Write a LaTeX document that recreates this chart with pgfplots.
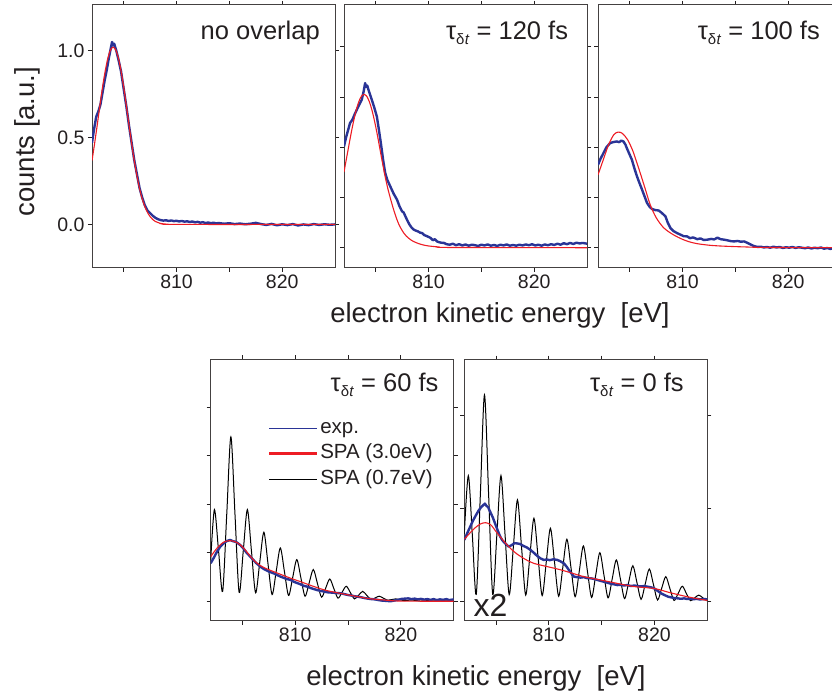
\documentclass[border=0pt]{standalone}
\usepackage{fontspec}
\setmainfont{Liberation Sans}
\usepackage{pgfplots}
\pgfplotsset{compat=1.18}
\definecolor{expblue}{RGB}{42,52,150}
\definecolor{spared}{RGB}{237,28,36}
\definecolor{txt}{RGB}{35,31,32}
\newcommand{\tdt}{τ\raisebox{-5pt}{\fontsize{15}{15}\selectfont δ\kern0.3pt\textit{t}}}
\tikzset{
  expline/.style={expblue, line width=2.4pt, line join=round},
  redfit/.style={spared, line width=1.1pt, smooth},
  blackfit/.style={black, line width=1.0pt, smooth},
  lbl/.style={font=\fontsize{25.5}{28}\selectfont, text=txt, anchor=base east, inner sep=0pt},
}
\pgfplotsset{
  panel/.style={
    scale only axis, width=243pt, height=262.7pt, anchor=south west,
    xmin=802, xmax=825,
    xtick={805,810,815,820}, xticklabels={,810,,820},
    tick align=outside, major tick length=4pt,
    tick style={line width=0.8pt, color=txt},
    axis line style={line width=1pt, color=txt!85},
    tick label style={font=\fontsize{19.5}{20}\selectfont, text=txt},
    /pgf/number format/assume math mode=true,
    yticklabels={},
  },
}
\begin{document}
\begin{tikzpicture}
\useasboundingbox (0pt,0pt) rectangle (832pt,695pt);
% ---------- panel 1: no overlap
\begin{axis}[panel, at={(92pt,427.3pt)}, ymin=-0.249, ymax=1.263,
  ytick={0,0.5,1}, yticklabels={0.0,0.5,1.0}]
\addplot[expline] coordinates {(802.0,0.47)(802.2,0.55)(802.4,0.62)(802.6,0.65)(802.8,0.69)(803.0,0.76)(803.2,0.83)(803.4,0.89)(803.6,0.96)(803.8,1.02)(803.9,1.05)(804.0,1.03)(804.1,1.04)(804.3,1.00)(804.5,0.95)(804.75,0.88)(805.0,0.78)(805.25,0.68)(805.5,0.57)(805.75,0.47)(806.0,0.37)(806.25,0.29)(806.5,0.21)(806.75,0.155)(807.0,0.11)(807.25,0.08)(807.5,0.065)(807.75,0.05)(808.0,0.038)(808.25,0.03)(808.5,0.025)(808.75,0.022)(809.0,0.024)(809.25,0.02)(809.5,0.023)(809.75,0.019)(810.0,0.021)(810.25,0.017)(810.5,0.02)(810.75,0.016)(811.0,0.018)(811.25,0.014)(811.5,0.017)(811.75,0.012)(812.0,0.015)(812.25,0.01)(812.5,0.013)(812.75,0.008)(813.0,0.011)(813.25,0.007)(813.5,0.01)(813.75,0.006)(814.0,0.008)(814.5,0.004)(815.0,0.007)(815.5,0.002)(816.0,0.005)(816.5,0.001)(817.0,0.004)(817.5,0.009)(818.0,0.002)(818.5,-0.003)(819.0,0.003)(819.5,-0.005)(820.0,0.001)(820.5,-0.004)(821.0,0.002)(821.5,-0.006)(822.0,0.0)(822.5,-0.004)(823.0,0.002)(823.5,-0.003)(824.0,0.001)(824.5,-0.002)(825.0,0.0)};
\addplot[redfit] coordinates {(802,0.367)(802.25,0.467)(802.5,0.574)(802.75,0.684)(803,0.791)(803.25,0.883)(803.5,0.957)(803.75,1.004)(804,1.020)(804.25,1.004)(804.5,0.957)(804.75,0.883)(805,0.791)(805.25,0.684)(805.5,0.574)(805.75,0.467)(806,0.367)(806.25,0.281)(806.5,0.207)(806.75,0.148)(807,0.103)(807.25,0.069)(807.5,0.045)(807.75,0.028)(808,0.017)(808.5,0.006)(809,0.002)(810,0)(825,0)};
\node[lbl] at (rel axis cs:1,1) [xshift=-15pt, yshift=-35pt] {no overlap};
\end{axis}
% ---------- panel 2: 120 fs
\begin{axis}[panel, at={(344pt,427.3pt)}, ymin=-0.0795, ymax=0.966,
  ytick={0,0.2,0.4,0.6,0.8}]
\addplot[expline] coordinates {(802.0,0.403)(802.2,0.44)(802.4,0.47)(802.57,0.496)(802.8,0.51)(803.0,0.53)(803.21,0.549)(803.45,0.57)(803.68,0.589)(803.85,0.62)(804.0,0.655)(804.1,0.64)(804.2,0.645)(804.32,0.628)(804.5,0.605)(804.63,0.589)(804.85,0.56)(805.11,0.522)(805.3,0.47)(805.49,0.416)(805.7,0.35)(805.9,0.297)(806.1,0.27)(806.38,0.244)(806.7,0.215)(807.02,0.191)(807.25,0.165)(807.49,0.145)(807.65,0.14)(807.81,0.125)(808.0,0.108)(808.2,0.092)(808.4,0.08)(808.6,0.072)(808.8,0.068)(809.0,0.065)(809.2,0.060)(809.4,0.058)(809.6,0.05)(809.8,0.047)(810.0,0.043)(810.19,0.039)(810.4,0.030)(810.6,0.034)(810.8,0.025)(811.0,0.022)(811.2,0.02)(811.46,0.019)(811.7,0.014)(812.0,0.012)(812.3,0.016)(812.6,0.01)(812.9,0.014)(813.2,0.009)(813.5,0.013)(813.8,0.008)(814.1,0.012)(814.4,0.01)(814.7,0.007)(815,0.012)(815.3,0.009)(815.6,0.013)(815.9,0.008)(816.2,0.011)(816.5,0.007)(816.8,0.012)(817.1,0.009)(817.4,0.013)(817.7,0.008)(818,0.011)(818.3,0.008)(818.6,0.012)(818.9,0.009)(819.2,0.013)(819.5,0.01)(819.8,0.014)(820.1,0.009)(820.4,0.012)(820.7,0.008)(821,0.013)(821.3,0.01)(821.6,0.014)(821.9,0.011)(822.2,0.016)(822.5,0.012)(822.8,0.018)(823.1,0.014)(823.4,0.019)(823.7,0.015)(824,0.02)(824.3,0.017)(824.6,0.019)(825,0.016)};
\addplot[redfit] coordinates {(802.0,0.301)(802.15,0.336)(802.4,0.393)(802.65,0.450)(802.9,0.502)(803.15,0.547)(803.4,0.581)(803.65,0.603)(803.9,0.610)(804.15,0.603)(804.4,0.581)(804.65,0.547)(804.9,0.502)(805.15,0.450)(805.4,0.393)(805.65,0.336)(805.9,0.282)(806.15,0.235)(806.4,0.195)(806.65,0.158)(806.9,0.125)(807.15,0.097)(807.4,0.076)(807.65,0.059)(807.9,0.046)(808.4,0.029)(808.9,0.019)(809.4,0.012)(810,0.007)(811,0.003)(812,0.001)(825,0)};
\node[lbl] at (rel axis cs:1,1) [xshift=-18.7pt, yshift=-35pt] {\tdt\ = 120 fs};
\end{axis}
% ---------- panel 3: 100 fs
\begin{axis}[panel, at={(598pt,427.3pt)}, ymin=-0.0795, ymax=0.966,
  ytick={0,0.2,0.4,0.6,0.8}]
\addplot[expline] coordinates {(802.0,0.33)(802.25,0.355)(802.51,0.376)(802.8,0.40)(803.14,0.416)(803.4,0.42)(803.78,0.423)(804.0,0.42)(804.2,0.426)(804.41,0.423)(804.6,0.41)(804.73,0.396)(805.0,0.37)(805.21,0.35)(805.45,0.315)(805.69,0.284)(805.9,0.26)(806.17,0.231)(806.4,0.205)(806.64,0.178)(806.9,0.162)(807.12,0.154)(807.4,0.150)(807.75,0.148)(808.05,0.138)(808.38,0.125)(808.6,0.10)(808.86,0.078)(809.15,0.066)(809.49,0.058)(809.8,0.052)(810.1,0.046)(810.44,0.045)(810.7,0.038)(811.0,0.041)(811.4,0.034)(811.7,0.037)(812.0,0.031)(812.35,0.032)(812.7,0.035)(813.0,0.033)(813.3,0.040)(813.6,0.034)(813.94,0.032)(814.3,0.029)(814.6,0.026)(814.89,0.025)(815.2,0.027)(815.5,0.024)(815.84,0.025)(816.1,0.02)(816.48,0.012)(816.8,0.006)(817.11,0.003)(817.4,0.004)(817.7,0.001)(818,0.003)(818.3,0.0)(818.6,0.004)(818.9,0.001)(819.2,0.003)(819.5,-0.001)(819.8,0.002)(820.1,0.0)(820.4,0.003)(820.7,-0.001)(821,0.002)(821.3,0.0)(821.6,-0.002)(821.9,0.001)(822.2,-0.003)(822.5,0.0)(822.8,-0.002)(823.1,0.001)(823.4,-0.004)(823.7,-0.001)(824,-0.005)(824.3,-0.001)(824.6,-0.003)(825,0.0)};
\addplot[redfit] coordinates {(802,0.29)(802.5,0.35)(803,0.41)(803.5,0.45)(803.9,0.46)(804.3,0.455)(804.8,0.43)(805.3,0.385)(805.7,0.335)(806,0.297)(806.5,0.23)(806.95,0.17)(807.5,0.12)(808.2,0.08)(809,0.055)(809.8,0.037)(810.6,0.024)(811.4,0.016)(812.5,0.010)(813.5,0.007)(814.6,0.005)(816,0.003)(818,0.001)(825,0)};
\node[lbl] at (rel axis cs:1,1) [xshift=-21pt, yshift=-35pt] {\tdt\ = 100 fs};
\end{axis}
% ---------- panel 4: 60 fs
\begin{axis}[panel, at={(210.7pt,74.3pt)}, height=261.4pt, ymin=-0.080, ymax=0.998,
  ytick={0,0.2,0.4,0.6,0.8},
  legend style={at={(rel axis cs:0.222,0.79)}, anchor=north west, draw=none, fill=none,
    font=\fontsize{20.5}{22}\selectfont, text=txt, row sep=2pt,
    nodes={inner sep=2pt, text height=15pt, text depth=4.5pt}},
  legend cell align=left,
  legend image code/.code={\draw[#1] (0pt,0pt) -- (48pt,0pt);}]
\addlegendimage{expblue, line width=1.1pt}
\addlegendentry{exp.}
\addlegendimage{spared, line width=2.4pt}
\addlegendentry{SPA (3.0eV)}
\addlegendimage{black, line width=1.1pt}
\addlegendentry{SPA (0.7eV)}
\addplot[blackfit, forget plot] coordinates {(802.0,0.17)(802.35,0.378)(802.74,0.21)(803.13,0.041)(803.52,0.36)(803.91,0.678)(804.30,0.357)(804.69,0.037)(805.08,0.207)(805.47,0.378)(805.86,0.206)(806.25,0.035)(806.64,0.16)(807.03,0.285)(807.42,0.156)(807.81,0.028)(808.20,0.124)(808.59,0.220)(808.98,0.122)(809.37,0.024)(809.76,0.098)(810.15,0.172)(810.54,0.096)(810.93,0.021)(811.32,0.076)(811.71,0.131)(812.10,0.074)(812.49,0.017)(812.88,0.054)(813.27,0.092)(813.66,0.052)(814.05,0.013)(814.44,0.038)(814.83,0.062)(815.22,0.036)(815.61,0.010)(816.00,0.025)(816.39,0.041)(816.78,0.024)(817.17,0.008)(817.56,0.014)(817.95,0.021)(818.34,0.013)(818.73,0.005)(819.12,0.007)(819.51,0.010)(819.90,0.006)(820.29,0.003)(821.07,0.005)(821.85,0.001)(822.63,0.003)(823.41,0.001)(824.19,0.002)(825,0.001)};
\addplot[expline, forget plot] coordinates {(802.0,0.157)(802.3,0.18)(802.6,0.205)(802.9,0.225)(803.2,0.238)(803.5,0.248)(803.84,0.253)(804.1,0.248)(804.4,0.245)(804.8,0.232)(805.1,0.218)(805.4,0.200)(805.75,0.184)(806.0,0.172)(806.3,0.158)(806.7,0.143)(807.0,0.134)(807.3,0.127)(807.6,0.121)(807.98,0.115)(808.3,0.108)(808.6,0.102)(808.9,0.097)(809.2,0.092)(809.57,0.088)(809.9,0.080)(810.2,0.075)(810.5,0.070)(810.8,0.064)(811.17,0.060)(811.5,0.054)(811.8,0.050)(812.1,0.046)(812.4,0.043)(812.75,0.040)(813.1,0.037)(813.4,0.036)(813.7,0.035)(814.0,0.034)(814.35,0.033)(814.7,0.029)(815.0,0.026)(815.3,0.024)(815.6,0.021)(815.94,0.019)(816.3,0.016)(816.6,0.013)(816.9,0.011)(817.2,0.009)(817.53,0.008)(817.9,0.005)(818.2,0.003)(818.5,0.002)(818.8,0.001)(819.12,0.001)(819.5,0.004)(819.8,0.007)(820.1,0.010)(820.4,0.011)(820.7,0.012)(821.0,0.009)(821.3,0.011)(821.6,0.008)(821.9,0.010)(822.2,0.007)(822.5,0.009)(822.8,0.006)(823.1,0.009)(823.4,0.005)(823.7,0.008)(824.0,0.006)(824.3,0.009)(824.6,0.005)(825.0,0.008)};
\addplot[redfit, forget plot] coordinates {(802,0.184)(802.5,0.214)(803,0.237)(803.4,0.247)(803.84,0.250)(804.3,0.246)(804.8,0.233)(805.3,0.210)(805.8,0.183)(806.39,0.157)(807,0.140)(807.98,0.122)(808.8,0.108)(809.57,0.095)(810.5,0.081)(811.5,0.065)(812.75,0.047)(814,0.035)(815.94,0.019)(817,0.011)(818.5,0.005)(820,0.001)(825,0)};
\node[lbl] at (rel axis cs:1,1) [xshift=-15pt, yshift=-32.4pt] {\tdt\ = 60 fs};
\end{axis}
% ---------- panel 5: 0 fs
\begin{axis}[panel, at={(464.3pt,74.3pt)}, height=261pt, ymin=-0.083, ymax=1.038,
  ytick={0,0.4,0.8}]
\addplot[blackfit] coordinates {(802.0,0.29)(802.38,0.540)(802.76,0.285)(803.13,0.030)(803.52,0.46)(803.91,0.887)(804.30,0.46)(804.69,0.030)(805.08,0.285)(805.47,0.540)(805.86,0.284)(806.25,0.029)(806.64,0.232)(807.03,0.436)(807.42,0.231)(807.81,0.027)(808.20,0.192)(808.59,0.357)(808.98,0.191)(809.37,0.025)(809.76,0.170)(810.15,0.314)(810.54,0.168)(810.93,0.022)(811.32,0.145)(811.71,0.267)(812.10,0.144)(812.49,0.020)(812.88,0.129)(813.27,0.238)(813.66,0.128)(814.05,0.017)(814.44,0.113)(814.83,0.209)(815.22,0.112)(815.61,0.015)(816.00,0.097)(816.39,0.178)(816.78,0.095)(817.17,0.012)(817.56,0.083)(817.95,0.153)(818.34,0.081)(818.73,0.009)(819.12,0.074)(819.51,0.139)(819.90,0.073)(820.29,0.006)(820.68,0.056)(821.07,0.106)(821.46,0.055)(821.85,0.004)(822.24,0.034)(822.63,0.065)(823.02,0.034)(823.41,0.003)(823.80,0.015)(824.19,0.027)(824.58,0.015)(825.0,0.002)};
\addplot[expline] coordinates {(802.0,0.264)(802.3,0.295)(802.6,0.325)(802.86,0.350)(803.1,0.37)(803.35,0.39)(803.6,0.405)(803.81,0.414)(803.95,0.42)(804.1,0.41)(804.25,0.405)(804.45,0.385)(804.7,0.36)(804.95,0.33)(805.2,0.30)(805.4,0.278)(805.6,0.262)(805.9,0.248)(806.2,0.235)(806.5,0.242)(806.75,0.25)(807.0,0.249)(807.3,0.246)(807.6,0.238)(807.9,0.232)(808.26,0.221)(808.6,0.208)(808.9,0.195)(809.2,0.185)(809.52,0.178)(809.8,0.180)(810.1,0.177)(810.45,0.181)(810.8,0.178)(811.1,0.172)(811.43,0.163)(811.7,0.148)(812.0,0.128)(812.38,0.106)(812.7,0.104)(813.0,0.102)(813.3,0.104)(813.6,0.100)(813.97,0.099)(814.3,0.096)(814.6,0.092)(814.9,0.088)(815.24,0.084)(815.55,0.080)(815.85,0.076)(816.2,0.073)(816.5,0.070)(816.8,0.071)(817.1,0.068)(817.4,0.070)(817.8,0.066)(818.1,0.068)(818.4,0.066)(818.7,0.064)(819.0,0.066)(819.35,0.063)(819.7,0.060)(820.0,0.055)(820.3,0.045)(820.65,0.034)(821.0,0.026)(821.3,0.020)(821.6,0.017)(821.9,0.014)(822.2,0.013)(822.5,0.011)(822.8,0.013)(823.1,0.010)(823.4,0.012)(823.7,0.009)(824.0,0.011)(824.3,0.008)(824.6,0.010)(825.0,0.009)};
\addplot[redfit] coordinates {(802,0.267)(802.5,0.292)(803,0.315)(803.5,0.332)(804,0.338)(804.5,0.329)(805,0.300)(805.5,0.272)(806,0.245)(806.5,0.222)(807,0.203)(807.5,0.188)(808,0.175)(808.6,0.163)(809.3,0.155)(810.16,0.146)(811,0.137)(812,0.124)(813.33,0.106)(815,0.091)(816.5,0.077)(818,0.064)(820,0.055)(821.5,0.037)(823,0.021)(824,0.012)(825,0.004)};
\node[lbl] at (rel axis cs:1,1) [xshift=-23.4pt, yshift=-31.7pt] {\tdt\ = 0 fs};
\node[font=\fontsize{32}{34}\selectfont, text=txt, anchor=base west, inner sep=0pt] at (rel axis cs:0,0) [xshift=9pt, yshift=4pt] {x2};
\end{axis}
% ---------- axis titles
\node[font=\fontsize{27.5}{30}\selectfont, text=txt, rotate=90, anchor=base, inner sep=0pt] at (34.5pt,553.3pt) {counts [a.u.]};
\node[font=\fontsize{27.5}{30}\selectfont, text=txt, anchor=center, inner sep=0pt] at (500pt,380pt) {electron kinetic energy\ \ [eV]};
\node[font=\fontsize{27.5}{30}\selectfont, text=txt, anchor=center, inner sep=0pt] at (476pt,16.7pt) {electron kinetic energy\ \ [eV]};
\end{tikzpicture}
\end{document}
